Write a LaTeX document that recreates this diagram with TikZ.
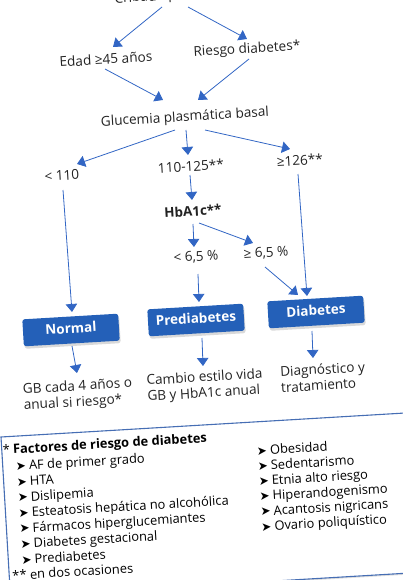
\documentclass[tikz,border=0pt]{standalone}
\usepackage{fontspec}
\setmainfont{Open Sans}
\newfontfamily\dejavu{DejaVu Sans}
\usetikzlibrary{arrows.meta,calc,shadows}
\definecolor{arrblue}{RGB}{50,102,196}
\definecolor{boxblue}{RGB}{36,96,184}
\definecolor{legblue}{RGB}{70,110,180}
\definecolor{txt}{RGB}{34,34,34}
\newcommand\legbul{{\dejavu\fontsize{12}{12}\selectfont ➤}\hspace{3pt}}
\begin{document}
\begin{tikzpicture}[x=1pt,y=-1pt,
  lbl/.style={rotate=3.4, inner sep=2pt, text=txt, font=\fontsize{13.6}{16}\selectfont, text height=9.5pt, text depth=3pt},
  two/.style={rotate=3.4, inner sep=2pt, text=txt, font=\fontsize{13.6}{16}\selectfont, align=left},
  stat/.style={rotate=3.4, fill=boxblue, rounded corners=2.5pt, minimum width=96pt, minimum height=27pt, inner sep=0pt,
    text=white, font=\bfseries\fontsize{13.5}{16}\selectfont, text height=9.5pt, text depth=3pt,
    drop shadow={opacity=0.3, shadow xshift=1pt, shadow yshift=-2.5pt}},
  arr/.style={draw=arrblue, line width=0.8pt, -{Triangle[length=8pt,width=11.5pt]}},
  leg/.style={rotate=3.4, anchor=west, inner sep=0pt, text=black, font=\fontsize{12.9}{15}\selectfont, text height=8pt, text depth=2pt},
  legbox/.style={draw=legblue, line width=1.1pt, fill=white, drop shadow={opacity=0.25, shadow xshift=0.5pt, shadow yshift=-1.5pt}}
]
\useasboundingbox (0,0) rectangle (403,580);
\clip (0,0) rectangle (403,580);

% flowchart nodes
\node[lbl] (crib) at (178,-4) {Cribado poblacional};
\node[lbl] (edad) at (106,61) {Edad ≥45 años};
\node[lbl] (riesgo) at (247,50) {Riesgo diabetes*};
\node[lbl] (gluc) at (185,118) {Glucemia plasmática basal};
\node[lbl] (lt110) at (62,177) {< 110};
\node[lbl] (mid) at (191,168) {110-125**};
\node[lbl] (ge126) at (300,162) {≥126**};
\node[lbl, font=\bfseries\fontsize{13.4}{16}\selectfont] (hba) at (193,213) {HbA1c**};
\node[lbl] (lt65) at (196,258) {< 6,5 \%};
\node[lbl] (ge65) at (266,254) {≥ 6,5 \%};
\node[stat] (normal) at (71,330) {Normal};
\node[stat] (prediab) at (196,320) {Prediabetes};
\node[stat] (diab) at (316,312) {Diabetes};
\node[two] (t1) at (78,395) {GB cada 4 años o\\anual si riesgo*};
\node[two] (t2) at (205,386) {Cambio estilo vida\\GB y HbA1c anual};
\node[two] (t3) at (323,377) {Diagnóstico y\\tratamiento};

% connectors
\draw[arr] ($(crib)+(-16,11)$) -- ($(edad)+(7,-14)$);
\draw[arr] ($(crib)+(10,11)$) -- ($(riesgo)+(0,-11)$);
\draw[arr] ($(edad)+(-1,8)$) -- ($(gluc)+(-22,-18)$);
\draw[arr] ($(riesgo)+(2,9)$) -- ($(gluc)+(13,-18)$);
\draw[arr] ($(gluc)+(-10,12)$) -- ($(lt110)+(15,-13)$);
\draw[arr] ($(gluc)+(1,12)$) -- ($(mid)+(-3,-13)$);
\draw[arr] ($(gluc)+(20,12)$) -- ($(ge126)+(-10,-13)$);
\draw[arr] ($(mid)+(-1,7)$) -- ($(hba)+(-1,-13)$);
\draw[arr] ($(hba)+(0,11)$) -- ($(lt65)+(-2,-11)$);
\draw[arr] ($(hba)+(6,10)$) -- ($(ge65)+(-13,-11)$);
\draw[arr] ($(lt110)+(1,13)$) -- ($(normal)+(1,-18)$);
\draw[arr] ($(ge126)+(-2,12)$) -- ($(diab)+(-9,-16)$);
\draw[arr] ($(ge65)+(-1,13)$) -- ($(diab)+(-18,-17)$);
\draw[arr] ($(lt65)+(2,16)$) -- ($(prediab)+(3,-18)$);
\draw[arr] ($(normal)+(1,16)$) -- ($(t1)+(-1,-22)$);
\draw[arr] ($(prediab)+(6,18)$) -- ($(t2)+(-2,-20)$);
\draw[arr] ($(diab)+(-4,19)$) -- ($(t3)+(-10,-19)$);

% legend
\begin{scope}[shift={(1,437)}, rotate=3.4]
  \path[legbox] (0,0) rectangle (440,160);
  \node[leg] (head) at (1,14.6) {*\hspace{3pt}\textbf{Factores de riesgo de diabetes}};
  \node[leg] (l1) at (13,31.5) {\legbul AF de primer grado};
  \node[leg] (l2) at (13,47.1) {\legbul HTA};
  \node[leg] (l3) at (13,62.7) {\legbul Dislipemia};
  \node[leg] (l4) at (13,78.3) {\legbul Esteatosis hepática no alcohólica};
  \node[leg] (l5) at (13,93.9) {\legbul Fármacos hiperglucemiantes};
  \node[leg] (l6) at (13,109.5) {\legbul Diabetes gestacional};
  \node[leg] (l7) at (13,125.1) {\legbul Prediabetes};
  \node[leg] (r1) at (254.5,30.4) {\legbul Obesidad};
  \node[leg] (r2) at (254.5,45.6) {\legbul Sedentarismo};
  \node[leg] (r3) at (254.5,60.8) {\legbul Etnia alto riesgo};
  \node[leg] (r4) at (254.5,76.0) {\legbul Hiperandogenismo};
  \node[leg] (r5) at (254.5,91.2) {\legbul Acantosis nigricans};
  \node[leg] (r6) at (254.5,106.4) {\legbul Ovario poliquístico};
  \node[leg] (foot) at (3,140.5) {** en dos ocasiones};
\end{scope}
\end{tikzpicture}
\end{document}
